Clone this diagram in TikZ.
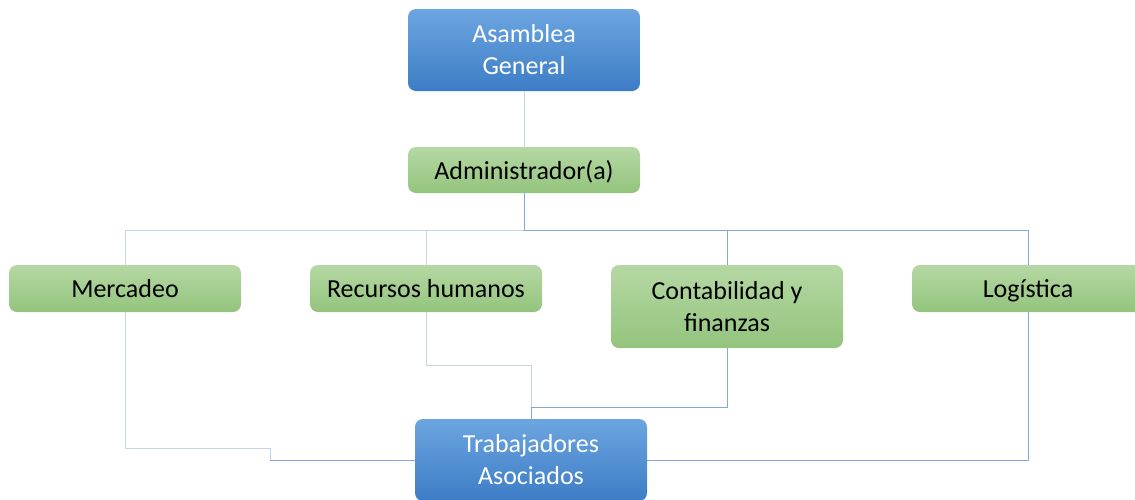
\documentclass[tikz,border=0pt]{standalone}
\usepackage{fontspec}
\setmainfont{Carlito}
\usepackage{tikz}

\definecolor{bluetop}{HTML}{6CA5E0}
\definecolor{bluebot}{HTML}{3D7DC6}
\definecolor{greentop}{HTML}{B5D8A3}
\definecolor{greenbot}{HTML}{93C47D}
\definecolor{lineblue}{HTML}{7FA9DA}
\definecolor{linegrey}{HTML}{C9D4E2}

\begin{document}
\begin{tikzpicture}[x=1pt,y=-1pt]
		\tikzstyle{boss}=[shape=rectangle,rounded corners=8pt,top color=bluetop,bottom color=bluebot,text=white,align=center,minimum width=232pt,font=\fontsize{26}{32}\selectfont]
		\tikzstyle{area}=[shape=rectangle,rounded corners=8pt,top color=greentop,bottom color=greenbot,text=black,align=center,minimum width=232pt,font=\fontsize{26}{32}\selectfont]
		\tikzstyle{oneline}=[text height=18pt,text depth=0pt]
		\tikzstyle{link}=[draw=lineblue,line width=1pt]
		\tikzstyle{faint}=[draw=linegrey,line width=1pt]
		
		\useasboundingbox (0,0) rectangle (1135,499);
		
		\node[boss,minimum height=82pt](asamblea) at (524,50){Asamblea\\General};
		\node[area,oneline,minimum height=46pt](admin) at (524,170){Administrador(a)};
		
		\node[area,oneline,minimum height=47pt](mercadeo) at (125,288.5){Mercadeo};
		\node[area,oneline,minimum height=47pt](recursos) at (426,288.5){Recursos humanos};
		\node[area,minimum height=83pt](contab) at (727,306.5){Contabilidad y\\finanzas};
		\node[area,oneline,minimum height=47pt](logistica) at (1028,288.5){Logística};
		
		\node[boss,minimum height=82pt](trabaj) at (531,460){Trabajadores\\Asociados};
		
		\coordinate(bus) at (524,230);
		\coordinate(m1) at (270,448);
		\coordinate(r1) at (531,365);
		\coordinate(c1) at (531,407);
		
		\draw[faint] (asamblea) -- (admin);
		\draw[link] (admin) -- (bus);
		\draw[faint] (bus) -| (mercadeo);
		\draw[faint] (bus) -| (recursos);
		\draw[link] (bus) -| (contab);
		\draw[link] (bus) -| (logistica);
		
		\draw[faint] (mercadeo) |- (m1) -- (m1 |- trabaj.west);
		\draw[link] (m1 |- trabaj.west) -- (trabaj.west);
		\draw[faint] (recursos) |- (r1) -- (c1);
		\draw[link] (c1) -- (trabaj);
		\draw[link] (contab) |- (c1);
		\draw[link] (logistica) |- (trabaj.east);
\end{tikzpicture}
\end{document}
